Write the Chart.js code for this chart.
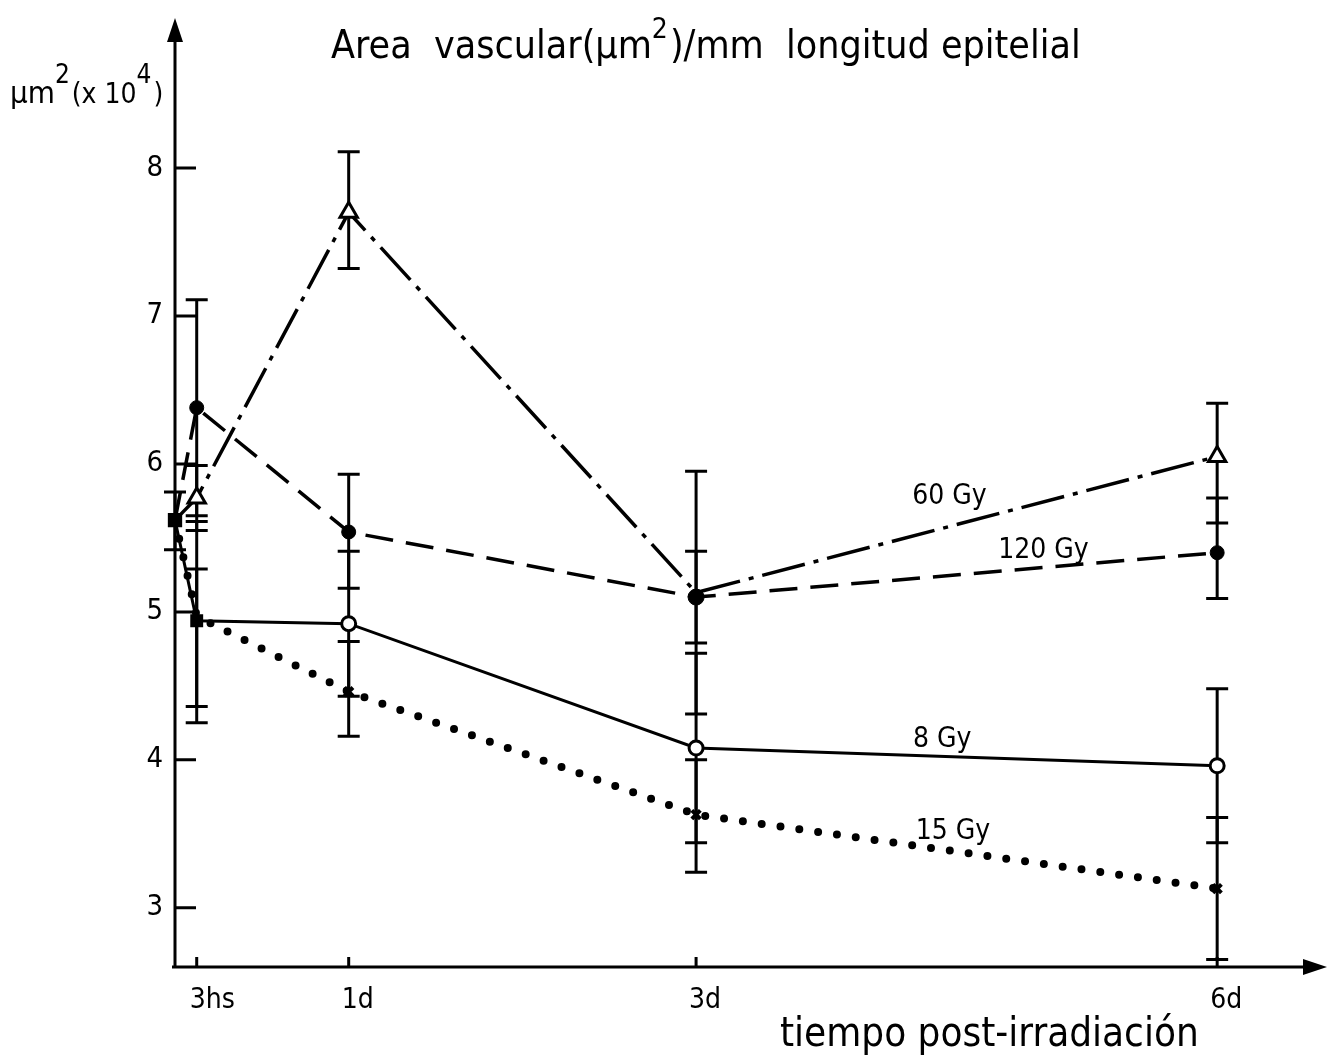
<!DOCTYPE html>
<html>
<head>
<meta charset="utf-8">
<script src="https://cdn.jsdelivr.net/npm/chart.js@4.4.0/dist/chart.umd.min.js"></script>
<style>
body{margin:0;background:#fff}
#wrap{width:1338px;height:1061px;position:relative}
</style>
</head>
<body>
<div id="wrap"><canvas id="canvas"></canvas></div>
<script>
// time after irradiation, in hours
let hours=[0,3,24,72,144]
let xTicks=[3,24,72,144]
let xTickLabels=['3hs','1d','3d','6d']
let yTicks=[3,4,5,6,7,8]

// vascular area, um2 x 10^4, with bar ends
let gy60=[5.62,5.77,7.70,5.13,6.05]
let gy60Lo=[null,5.55,7.32,4.31,5.60]
let gy60Hi=[null,5.99,8.11,5.95,6.41]

let gy120=[5.62,6.38,5.54,5.10,5.40]
let gy120Lo=[null,5.65,5.16,4.79,5.09]
let gy120Hi=[null,7.11,5.93,5.41,5.77]

let gy8=[5.62,4.94,4.92,4.08,3.96]
let gy8Lo=[5.42,4.36,4.43,3.44,3.44]
let gy8Hi=[5.81,5.29,5.41,4.72,4.48]

let gy15=[5.62,4.97,4.46,3.63,3.13]
let gy15Lo=[null,4.25,4.16,3.24,2.65]
let gy15Hi=[null,5.61,4.80,4.00,3.61]

let font='"DejaVu Sans Condensed", "DejaVu Sans", sans-serif'
let canvas=document.getElementById('canvas')

function pts(v) {
    return hours.map((h,i)=>({x:h,y:v[i]}))
}

// error bars go under the lines
let bars={
    id:'bars',
    beforeDatasetsDraw(c) {
        let ctx=c.ctx
        let y=c.scales.y
        ctx.save()
        ctx.strokeStyle='#000'
        ctx.lineWidth=3
        c.data.datasets.forEach((ds,i)=>{
            let meta=c.getDatasetMeta(i)
            ds.lo.forEach((lo,j)=>{
                if (lo==null) return
                let px=meta.data[j].x
                let a=y.getPixelForValue(lo)
                let b=y.getPixelForValue(ds.hi[j])
                ctx.beginPath()
                ctx.moveTo(px,a);ctx.lineTo(px,b)
                ctx.moveTo(px-11,a);ctx.lineTo(px+11,a)
                ctx.moveTo(px-11,b);ctx.lineTo(px+11,b)
                ctx.stroke()
            })
        })
        ctx.restore()
    }
}

// text with raised exponents: [text, raised, size]
function sup(ctx,parts,x,y) {
    parts.forEach(p=>{
        ctx.font=p[2]+'px '+font
        let dy=p[1] ? -20 : 0
        ctx.fillText(p[0],x,y+dy)
        x+=ctx.measureText(p[0]).width+(p[1] ? 2 : 0)
    })
}

let axes={
    id:'axes',
    beforeDatasetsDraw(c) {
        let ctx=c.ctx
        let a=c.chartArea
        let x=c.scales.x
        let y=c.scales.y
        let x0=x.getPixelForValue(0)
        let y0=y.getPixelForValue(y.min)
        ctx.save()
        ctx.strokeStyle='#000'
        ctx.fillStyle='#000'
        ctx.lineWidth=3
        ctx.beginPath()
        ctx.moveTo(x0,y0+1);ctx.lineTo(x0,a.top+18)
        ctx.moveTo(x0-3,y0);ctx.lineTo(a.right-18,y0)
        yTicks.forEach(t=>{
            let py=y.getPixelForValue(t)
            ctx.moveTo(x0,py);ctx.lineTo(x0+21,py)
        })
        xTicks.forEach(t=>{
            let px=x.getPixelForValue(t)
            ctx.moveTo(px,y0);ctx.lineTo(px,y0-10)
        })
        ctx.stroke()
        // arrow heads
        ctx.beginPath()
        ctx.moveTo(x0,a.top-2);ctx.lineTo(x0-8,a.top+22);ctx.lineTo(x0+8,a.top+22);ctx.closePath()
        ctx.moveTo(a.right+2,y0);ctx.lineTo(a.right-22,y0-8);ctx.lineTo(a.right-22,y0+8);ctx.closePath()
        ctx.fill()

        ctx.textBaseline='middle'
        ctx.textAlign='right'
        ctx.font='29px '+font
        yTicks.forEach(t=>ctx.fillText(String(t),x0-12,y.getPixelForValue(t)))
        ctx.textAlign='left'
        ctx.font='28px '+font
        xTicks.forEach((t,i)=>ctx.fillText(xTickLabels[i],x.getPixelForValue(t)-7,y0+34))

        ctx.textBaseline='alphabetic'
        ctx.font='40px '+font
        ctx.fillText('tiempo post-irradiación',780,1046)

        sup(ctx,[['µm',0,31],['2',1,26],['(x 10',0,28],['4',1,26],[')',0,28]],10,103)
        sup(ctx,[['Area  vascular(µm',0,39],['2',1,28],[')/mm  longitud epitelial',0,39]],331,58)

        ctx.font='28px '+font
        ctx.textAlign='center'
        ctx.fillText('60 Gy',x.getPixelForValue(107),y.getPixelForValue(5.73))
        ctx.fillText('120 Gy',x.getPixelForValue(120),y.getPixelForValue(5.365))
        ctx.fillText('8 Gy',x.getPixelForValue(106),y.getPixelForValue(4.085))
        ctx.fillText('15 Gy',x.getPixelForValue(107.5),y.getPixelForValue(3.465))
        ctx.restore()
    }
}

new Chart(canvas,{
    type:'line',
    data:{
        datasets:[
            {
                label:'60 Gy',
                data:pts(gy60),lo:gy60Lo,hi:gy60Hi,
                borderColor:'#000',borderWidth:3.5,
                borderDash:[44,9,5,9],
                pointStyle:'triangle',
                pointRadius:[0,10,10,0,10],
                pointBackgroundColor:'#fff',pointBorderColor:'#000',pointBorderWidth:3
            },
            {
                label:'120 Gy',
                data:pts(gy120),lo:gy120Lo,hi:gy120Hi,
                borderColor:'#000',borderWidth:3.5,
                borderDash:[28,13],
                pointStyle:'circle',
                pointRadius:[0,7,7,8,7],
                pointBackgroundColor:'#000',pointBorderColor:'#000',pointBorderWidth:1
            },
            {
                label:'15 Gy',
                data:pts(gy15),lo:gy15Lo,hi:gy15Hi,
                borderColor:'#000',borderWidth:8,
                borderDash:[0,19],borderCapStyle:'round',
                pointStyle:'crossRot',
                pointRadius:[0,0,6,6,6],
                pointBorderColor:'#000',pointBorderWidth:4
            },
            {
                label:'8 Gy',
                data:pts(gy8),lo:gy8Lo,hi:gy8Hi,
                borderColor:'#000',borderWidth:3,
                pointStyle:['rect','rect','circle','circle','circle'],
                pointRadius:[8,7,7,7,7],
                pointBackgroundColor:['#000','#000','#fff','#fff','#fff'],
                pointBorderColor:'#000',pointBorderWidth:3
            }
        ]
    },
    options:{
        responsive:true,
        maintainAspectRatio:false,
        animation:false,
        layout:{padding:{left:175,right:8,top:20,bottom:94}},
        elements:{line:{tension:0},point:{hoverRadius:0}},
        datasets:{line:{clip:false}},
        plugins:{legend:{display:false},tooltip:{enabled:false}},
        scales:{
            x:{type:'linear',min:0,max:158.9,display:false},
            y:{type:'linear',min:2.6,max:9,display:false}
        }
    },
    plugins:[axes,bars]
})
</script>
</body>
</html>
